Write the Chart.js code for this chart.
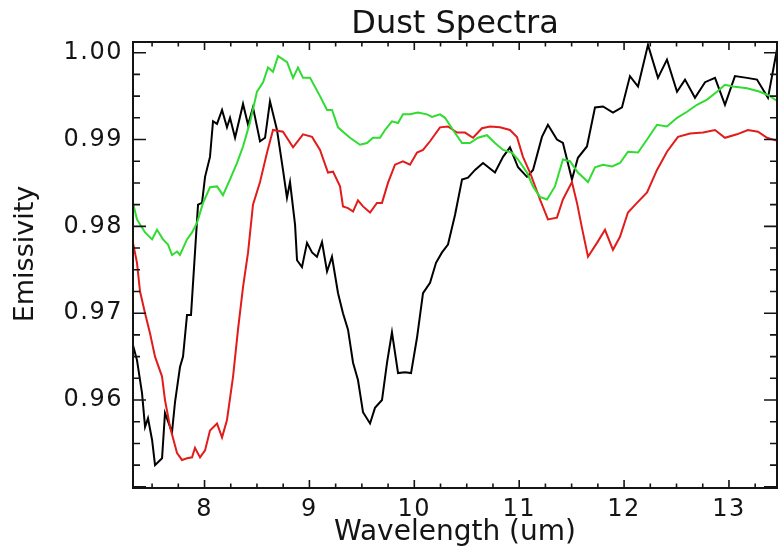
<!DOCTYPE html>
<html>
<head>
<meta charset="utf-8">
<script src="https://cdn.jsdelivr.net/npm/chart.js@4/dist/chart.umd.min.js"></script>
<style>
  html, body { margin: 0; padding: 0; background: #ffffff; }
  #wrap { width: 779px; height: 547px; position: relative; }
</style>
</head>
<body>
<div id="wrap"><canvas id="c"></canvas></div>
<script>
// ---- Data ----
const chartTitle = "Dust Spectra";
const xAxisTitle = "Wavelength (um)";
const yAxisTitle = "Emissivity";

const xTickValues = [8, 9, 10, 11, 12, 13];
const yTickValues = [0.96, 0.97, 0.98, 0.99, 1.00];

const blackWavelength = [7.318,7.356,7.404,7.433,7.461,7.500,7.528,7.595,7.623,7.690,7.719,7.766,7.795,7.833,7.871,7.909,7.938,7.976,8.005,8.052,8.081,8.119,8.167,8.214,8.243,8.291,8.367,8.415,8.462,8.529,8.577,8.624,8.691,8.748,8.786,8.815,8.863,8.882,8.929,8.977,9.025,9.072,9.120,9.168,9.215,9.273,9.320,9.368,9.416,9.463,9.511,9.578,9.625,9.692,9.740,9.787,9.845,9.911,9.969,10.026,10.083,10.150,10.207,10.264,10.321,10.388,10.455,10.512,10.579,10.655,10.769,10.846,10.912,10.989,11.074,11.132,11.217,11.274,11.360,11.417,11.503,11.560,11.646,11.723,11.799,11.894,11.980,12.056,12.133,12.228,12.323,12.409,12.505,12.581,12.676,12.772,12.867,12.962,13.057,13.172,13.267,13.372,13.458,13.477];
const blackEmissivity = [0.9663,0.9646,0.9608,0.9569,0.9579,0.9554,0.9525,0.9533,0.9585,0.9563,0.9598,0.9638,0.9650,0.9698,0.9698,0.9770,0.9825,0.9827,0.9857,0.9880,0.9921,0.9918,0.9934,0.9914,0.9925,0.9902,0.9941,0.9917,0.9937,0.9898,0.9902,0.9944,0.9911,0.9865,0.9833,0.9851,0.9802,0.9761,0.9753,0.9781,0.9770,0.9765,0.9782,0.9748,0.9765,0.9723,0.9700,0.9681,0.9643,0.9623,0.9586,0.9573,0.9591,0.9600,0.9643,0.9678,0.9631,0.9632,0.9631,0.9672,0.9723,0.9735,0.9758,0.9770,0.9779,0.9813,0.9854,0.9856,0.9865,0.9873,0.9862,0.9880,0.9891,0.9868,0.9857,0.9865,0.9903,0.9917,0.9900,0.9896,0.9854,0.9879,0.9892,0.9937,0.9938,0.9931,0.9937,0.9973,0.9961,1.0009,0.9971,0.9992,0.9955,0.9969,0.9948,0.9966,0.9971,0.9940,0.9973,0.9971,0.9969,0.9948,1.0004,1.0015];

const redWavelength = [7.318,7.356,7.385,7.433,7.480,7.528,7.595,7.623,7.671,7.738,7.785,7.833,7.881,7.909,7.957,8.005,8.052,8.119,8.167,8.214,8.272,8.319,8.367,8.415,8.462,8.529,8.596,8.653,8.748,8.844,8.939,9.025,9.101,9.177,9.225,9.292,9.320,9.368,9.416,9.463,9.511,9.578,9.644,9.692,9.749,9.816,9.892,9.959,10.026,10.083,10.150,10.245,10.321,10.407,10.483,10.560,10.645,10.722,10.817,10.912,10.979,11.036,11.103,11.198,11.274,11.360,11.417,11.503,11.551,11.599,11.656,11.742,11.818,11.894,11.961,12.037,12.123,12.219,12.314,12.409,12.514,12.629,12.753,12.867,12.962,13.076,13.181,13.277,13.363,13.477];
const redEmissivity = [0.9781,0.9758,0.9725,0.9700,0.9677,0.9650,0.9627,0.9600,0.9569,0.9539,0.9531,0.9533,0.9534,0.9545,0.9534,0.9542,0.9565,0.9573,0.9557,0.9577,0.9627,0.9681,0.9730,0.9770,0.9825,0.9851,0.9885,0.9911,0.9909,0.9891,0.9906,0.9903,0.9888,0.9862,0.9863,0.9846,0.9823,0.9821,0.9817,0.9830,0.9823,0.9816,0.9827,0.9827,0.9850,0.9871,0.9875,0.9871,0.9885,0.9888,0.9898,0.9914,0.9915,0.9908,0.9908,0.9902,0.9913,0.9915,0.9914,0.9911,0.9903,0.9880,0.9862,0.9831,0.9808,0.9810,0.9831,0.9851,0.9827,0.9798,0.9765,0.9781,0.9796,0.9773,0.9788,0.9816,0.9827,0.9839,0.9865,0.9886,0.9903,0.9907,0.9908,0.9911,0.9902,0.9906,0.9911,0.9909,0.9902,0.9898];

const greenWavelength = [7.318,7.356,7.433,7.500,7.547,7.604,7.652,7.690,7.738,7.766,7.833,7.881,7.928,7.986,8.052,8.119,8.176,8.243,8.310,8.367,8.434,8.500,8.558,8.605,8.653,8.701,8.787,8.844,8.891,8.939,9.006,9.101,9.168,9.216,9.273,9.320,9.387,9.482,9.549,9.606,9.673,9.721,9.787,9.845,9.892,9.959,10.035,10.121,10.169,10.245,10.293,10.369,10.455,10.531,10.607,10.693,10.769,10.846,10.931,10.989,11.074,11.132,11.198,11.265,11.341,11.417,11.484,11.560,11.656,11.723,11.799,11.885,11.961,12.037,12.133,12.219,12.314,12.409,12.505,12.600,12.695,12.791,12.886,12.962,13.038,13.172,13.296,13.391,13.477];
const greenEmissivity = [0.9827,0.9808,0.9793,0.9785,0.9796,0.9785,0.9779,0.9767,0.9771,0.9767,0.9785,0.9793,0.9804,0.9827,0.9845,0.9846,0.9836,0.9854,0.9873,0.9892,0.9920,0.9955,0.9966,0.9983,0.9978,0.9996,0.9989,0.9971,0.9983,0.9971,0.9971,0.9950,0.9934,0.9934,0.9914,0.9909,0.9902,0.9894,0.9896,0.9902,0.9902,0.9911,0.9921,0.9919,0.9929,0.9929,0.9931,0.9929,0.9926,0.9929,0.9925,0.9911,0.9896,0.9896,0.9902,0.9905,0.9896,0.9888,0.9885,0.9877,0.9862,0.9846,0.9834,0.9831,0.9846,0.9877,0.9875,0.9862,0.9851,0.9868,0.9871,0.9869,0.9873,0.9886,0.9885,0.9900,0.9917,0.9915,0.9925,0.9932,0.9940,0.9946,0.9955,0.9963,0.9961,0.9959,0.9955,0.9950,0.9943];

// ---- Axis ranges ----
const xMin = 7.318, xMax = 13.458;
const yMin = 0.94987, yMax = 1.00123;
const xMinorStep = 0.25, yMinorStep = 0.0025;

function pairs(xs, ys) {
  const n = Math.min(xs.length, ys.length);
  const out = [];
  for (let i = 0; i < n; i++) out.push({ x: xs[i], y: ys[i] });
  return out;
}

const TEXT = '#141414';

const framePlugin = {
  id: 'frameAndTitles',
  beforeDraw(chart) {
    chart.ctx.letterSpacing = '1.5px';
  },
  afterDraw(chart) {
    const ctx = chart.ctx;
    const a = chart.chartArea;
    const xs = chart.scales.x, ys = chart.scales.y;
    ctx.save();
    ctx.letterSpacing = '0px';
    ctx.strokeStyle = TEXT;
    ctx.lineWidth = 2;
    ctx.strokeRect(a.left, a.top, a.right - a.left, a.bottom - a.top);

    ctx.lineWidth = 1.6;
    ctx.beginPath();
    // x ticks (bottom and top), pointing inward
    const x0 = Math.ceil(xMin / xMinorStep) * xMinorStep;
    for (let v = x0; v <= xMax + 1e-9; v += xMinorStep) {
      const major = Math.abs(v - Math.round(v)) < 1e-6;
      const len = major ? 8 : 4.5;
      const px = xs.getPixelForValue(v);
      ctx.moveTo(px, a.bottom); ctx.lineTo(px, a.bottom - len);
      ctx.moveTo(px, a.top); ctx.lineTo(px, a.top + len);
    }
    // y ticks (left and right), pointing inward
    const y0 = Math.ceil(yMin / yMinorStep) * yMinorStep;
    for (let v = y0; v <= yMax + 1e-9; v += yMinorStep) {
      const major = Math.abs(v * 100 - Math.round(v * 100)) < 1e-6;
      const len = major ? 13 : 7;
      const py = ys.getPixelForValue(v);
      ctx.moveTo(a.left, py); ctx.lineTo(a.left + len, py);
      ctx.moveTo(a.right, py); ctx.lineTo(a.right - len, py);
    }
    ctx.stroke();

    // titles
    ctx.fillStyle = TEXT;
    ctx.textAlign = 'center';
    ctx.textBaseline = 'alphabetic';
    const cx = (a.left + a.right) / 2;
    ctx.font = '32px "DejaVu Sans"';
    ctx.fillText(chartTitle, cx, 33);
    ctx.font = '28px "DejaVu Sans"';
    ctx.fillText(xAxisTitle, cx, 540);
    ctx.save();
    ctx.translate(33, 254);
    ctx.rotate(-Math.PI / 2);
    ctx.font = '27px "DejaVu Sans"';
    ctx.fillText(yAxisTitle, 0, 0);
    ctx.restore();
    ctx.restore();
  }
};

new Chart(document.getElementById('c'), {
  type: 'line',
  data: {
    datasets: [
      { label: 'black', data: pairs(blackWavelength, blackEmissivity), borderColor: '#000000', borderWidth: 2, pointRadius: 0, tension: 0, fill: false, order: 3 },
      { label: 'red', data: pairs(redWavelength, redEmissivity), borderColor: '#e21b1b', borderWidth: 2, pointRadius: 0, tension: 0, fill: false, order: 2 },
      { label: 'green', data: pairs(greenWavelength, greenEmissivity), borderColor: '#2fdc2f', borderWidth: 2, pointRadius: 0, tension: 0, fill: false, order: 1 }
    ]
  },
  options: {
    responsive: true,
    maintainAspectRatio: false,
    animation: false,
    devicePixelRatio: 1,
    layout: { padding: { top: 42, right: 2, left: 0, bottom: 0 } },
    plugins: { legend: { display: false }, title: { display: false }, tooltip: { enabled: false } },
    scales: {
      x: {
        type: 'linear', min: xMin, max: xMax,
        grid: { display: false, drawTicks: false },
        border: { display: false },
        afterFit(s) { s.height = 59; },
        afterBuildTicks(s) { s.ticks = xTickValues.map(v => ({ value: v })); },
        ticks: { padding: 7, color: TEXT, font: { family: 'DejaVu Sans', size: 24 }, maxRotation: 0, autoSkip: false, callback: v => String(v) }
      },
      y: {
        type: 'linear', min: yMin, max: yMax,
        grid: { display: false, drawTicks: false },
        border: { display: false },
        afterFit(s) { s.width = 133; },
        afterBuildTicks(s) { s.ticks = yTickValues.map(v => ({ value: v })); },
        ticks: { padding: 10, color: TEXT, font: { family: 'DejaVu Sans', size: 24 }, autoSkip: false, callback: v => Number(v).toFixed(2) }
      }
    }
  },
  plugins: [framePlugin]
});
</script>
</body>
</html>
